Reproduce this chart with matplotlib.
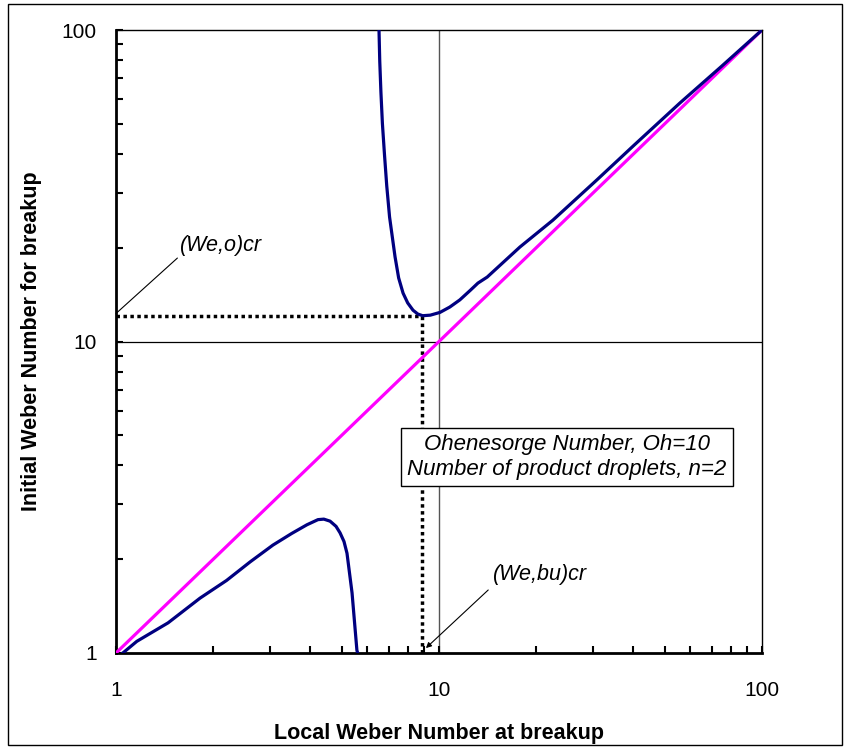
import matplotlib
matplotlib.use('Agg')
import matplotlib.pyplot as plt
from matplotlib.patches import Rectangle
from matplotlib.ticker import LogLocator, FixedLocator, NullFormatter

plt.rcParams['font.family'] = ['Liberation Sans', 'DejaVu Sans']

# data
we_local_low = [1.05, 1.16, 1.45, 1.82, 2.20, 2.60, 3.06, 3.50, 3.90, 4.22, 4.40, 4.60, 4.80,
                4.94, 5.08, 5.19, 5.38, 5.57, 5.60]
we_init_low = [1.0, 1.09, 1.25, 1.50, 1.71, 1.96, 2.22, 2.42, 2.58, 2.68, 2.69, 2.65, 2.55,
               2.43, 2.28, 2.09, 1.56, 1.02, 1.0]

we_local_up = [6.52, 6.555, 6.61, 6.68, 6.78, 6.89, 7.03, 7.31, 7.50, 7.74, 8.0, 8.31, 8.6,
               8.9, 9.4, 10.07, 10.8, 11.6, 12.5, 13.2, 14.1, 17.8, 22.5, 30.8,
               40.0, 55.7, 75.0, 100]
we_init_up = [100, 79.4, 63.1, 50.1, 39.8, 31.6, 25.1, 18.7, 16.0, 14.3, 13.3, 12.6, 12.25,
              12.1, 12.15, 12.4, 12.9, 13.6, 14.6, 15.4, 16.1, 20.1, 24.5, 33.0,
              42.5, 58.3, 76.5, 100]

diag = [1, 100]
we_bu_cr = 8.85
we_o_cr = 12.1

fig = plt.figure(figsize=(8.5, 7.49), dpi=100)
ax = fig.add_axes([116/850, 1-653/749, (762-116)/850, (653-30)/749])
ax.set_xscale('log')
ax.set_yscale('log')
ax.set_xlim(1, 100)
ax.set_ylim(1, 100)

ax.axvline(10, color='#555555', lw=1.0, zorder=1)
ax.axhline(10, color='black', lw=0.9, zorder=1)

ax.plot([1, we_bu_cr], [we_o_cr, we_o_cr], color='black', ls=(0, (1, 1)), lw=2.5, zorder=2)
ax.plot([we_bu_cr, we_bu_cr], [1, we_o_cr], color='black', ls=(0, (1, 1)), lw=2.5, zorder=2)

ax.plot(diag, diag, color='#ff00ff', lw=2.3, zorder=3)
ax.plot(we_local_low, we_init_low, color='#000080', lw=2.3, zorder=4,
        solid_joinstyle='round')
ax.plot(we_local_up, we_init_up, color='#000080', lw=2.3, zorder=4,
        solid_joinstyle='round')

ax.annotate('(We,o)cr', xy=(1.0, 12.3), xytext=(1.58, 20.4), fontsize=15.5, style='italic',
            va='center', ha='left',
            arrowprops=dict(arrowstyle='-', color='black', lw=0.8, shrinkA=0, shrinkB=0,
                            relpos=(0, 0)), annotation_clip=False)
ax.annotate('(We,bu)cr', xy=(9.11, 1.037), xytext=(14.7, 1.78), fontsize=15.5, style='italic',
            va='center', ha='left',
            arrowprops=dict(arrowstyle='-|>', color='black', lw=0.8, shrinkA=2, shrinkB=0,
                            mutation_scale=8, relpos=(0, 0)))

ax.text(24.9, 4.26, 'Ohenesorge Number, Oh=10\nNumber of product droplets, n=2',
        fontsize=16, style='italic', ha='center', va='center', linespacing=1.2,
        bbox=dict(boxstyle='square,pad=0.3', fc='white', ec='black', lw=1.0), zorder=5)

for s in ['left', 'bottom']:
    ax.spines[s].set_linewidth(2.0)
for s in ['top', 'right']:
    ax.spines[s].set_linewidth(1.0)

ax.xaxis.set_major_locator(FixedLocator([1, 10, 100]))
ax.yaxis.set_major_locator(FixedLocator([1, 10, 100]))
ax.xaxis.set_minor_locator(LogLocator(base=10, subs=range(2, 10)))
ax.yaxis.set_minor_locator(LogLocator(base=10, subs=range(2, 10)))
ax.xaxis.set_minor_formatter(NullFormatter())
ax.yaxis.set_minor_formatter(NullFormatter())
ax.set_xticklabels(['1', '10', '100'])
ax.set_yticklabels(['1', '10', '100'])
ax.tick_params(which='both', direction='in', length=5, width=1.5, top=False, right=False,
               labelsize=15)
ax.tick_params(axis='x', pad=20)
ax.tick_params(axis='y', pad=14)

ax.set_xlabel('Local Weber Number at breakup', fontsize=15.5, fontweight='bold', labelpad=17)
ax.set_ylabel('Initial Weber Number for breakup', fontsize=15.5, fontweight='bold', labelpad=14)

fig.patches.append(Rectangle((8/850, 4/749), 834/850, 741/749, transform=fig.transFigure,
                             fill=False, ec='black', lw=1.0))

fig.savefig('out.png', dpi=100)
